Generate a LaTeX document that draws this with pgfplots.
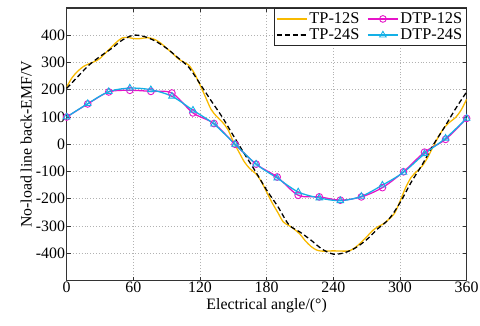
\documentclass[border=0pt]{standalone}
\usepackage{pgfplots}
\pgfplotsset{compat=1.18}
\usepackage{fontspec}
\setmainfont{Liberation Serif}
\definecolor{tpy}{RGB}{248,186,0}
\definecolor{dmag}{RGB}{230,20,200}
\definecolor{dcy}{RGB}{20,176,230}
\begin{document}
\fontsize{16}{19}\selectfont
\begin{tikzpicture}
\path (-67bp,8bp) rectangle (411bp,-274bp-45bp);
\begin{axis}[
  at={(0,0)}, anchor=north west,
  scale only axis,
  width=402bp, height=274bp,
  xmin=0, xmax=360, ymin=-500, ymax=500,
  xtick={0,60,...,360},
  ytick={-400,-300,...,400},
  tick align=inside,
  major tick length=4bp,
  tick style={line width=0.8pt, color=black!80},
  axis line style={line width=1.2pt, color=black!80},
  grid=major,
  grid style={dash pattern=on 0.9pt off 2.1pt, gray!60, line width=0.7pt},
  /pgf/number format/assume math mode=true,
  ticklabel style={font=\fontsize{16}{19}\selectfont, inner sep=1.5pt},
  label style={font=\fontsize{16}{19}\selectfont},
  xlabel={Electrical angle/(°)},
  ylabel={No-load line back-EMF/V},
  xlabel style={yshift=1bp},
  ylabel style={yshift=-3bp},
  legend columns=2,
  legend style={at={(1,1)}, anchor=north east, draw=black!85, line width=0.8pt,
    font=\fontsize{16.5}{17}\selectfont, inner sep=2pt, row sep=-1pt,
    /tikz/every even column/.append style={column sep=6pt}},
  legend cell align=left,
  legend image code/.code={\draw[mark repeat=2,mark phase=2,#1] plot coordinates {(0bp,0bp) (15bp,0bp) (30bp,0bp)};},
]
\addplot[color=tpy, line width=1.3pt, smooth, tension=0.5] coordinates {
(0,210)(5,245)(10,268)(15,285)(20,295)(25,303)(30,315)(35,335)(40,355)(45,375)
(50,390)(55,392)(60,388)(65,387)(70,390)(75,390)(80,383)(85,370)(90,352)(95,335)
(100,315)(105,302)(110,290)(115,260)(120,218)(125,173)(130,128)(135,102)(140,82)(145,55)
(150,10)(155,-28)(160,-65)(165,-90)(170,-107)(175,-135)(180,-175)(185,-215)(190,-250)(195,-285)
(200,-298)(205,-312)(210,-330)(215,-355)(220,-375)(225,-388)(230,-392)(240,-391)(250,-392)(255,-390)
(260,-378)(265,-360)(270,-340)(275,-318)(280,-303)(285,-292)(290,-275)(295,-254)(300,-210)(305,-160)
(310,-122)(315,-100)(320,-80)(325,-48)(330,-8)(335,30)(340,62)(345,82)(350,98)(355,125)(360,165)
};
\addlegendentry{TP-12S}
\addplot[color=dmag, line width=1.3pt, smooth, tension=0.5, mark=o, mark size=3.4pt, mark options={solid, line width=0.9pt}] coordinates {
(0,100)(18.95,148)(37.89,192)(56.84,198)(75.79,194)(94.74,188)(113.68,115)(132.63,76)(151.58,0)(170.53,-73)
(189.47,-120)(208.42,-187)(227.37,-193)(246.32,-205)(265.26,-193)(284.21,-159)(303.16,-101)(322.11,-29)(341.05,18)(360,95)
};
\addlegendentry{DTP-12S}
\addplot[color=black, line width=1.3pt, dash pattern=on 5pt off 3pt, smooth, tension=0.5] coordinates {
(0,205)(10,248)(20,290)(30,322)(40,350)(50,382)(60,400)(70,395)(80,378)(90,352)
(100,318)(110,282)(120,222)(130,160)(140,100)(150,32)(160,-35)(170,-100)(180,-168)(190,-228)
(200,-295)(210,-322)(220,-352)(230,-385)(240,-403)(250,-398)(260,-380)(270,-350)(280,-310)(290,-275)
(300,-215)(310,-140)(320,-75)(330,-2)(340,62)(350,130)(360,192)
};
\addlegendentry{TP-24S}
\addplot[color=dcy, line width=1.3pt, smooth, tension=0.5, mark=triangle, mark size=3.8pt, mark options={solid, line width=0.9pt}] coordinates {
(0,100)(18.95,149)(37.89,193)(56.84,206)(75.79,200)(94.74,176)(113.68,125)(132.63,74)(151.58,0)(170.53,-73)
(189.47,-124)(208.42,-175)(227.37,-197)(246.32,-207)(265.26,-191)(284.21,-150)(303.16,-103)(322.11,-35)(341.05,22)(360,95)
};
\addlegendentry{DTP-24S}
\end{axis}
\end{tikzpicture}
\end{document}
